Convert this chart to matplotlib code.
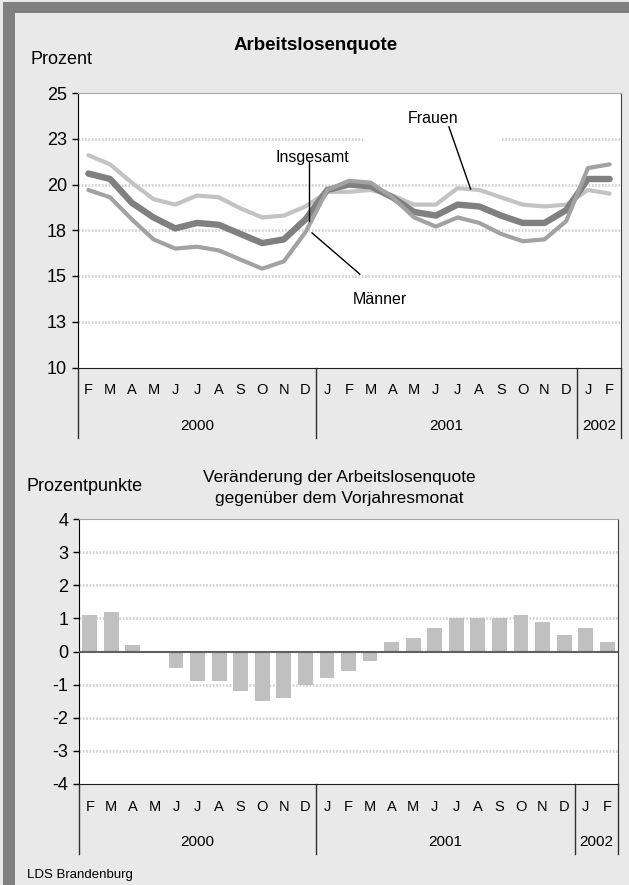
import numpy as np
import matplotlib
matplotlib.use("Agg")
import matplotlib.pyplot as plt
from matplotlib.patches import Rectangle

# Daten
monate = ["F", "M", "A", "M", "J", "J", "A", "S", "O", "N", "D",
          "J", "F", "M", "A", "M", "J", "J", "A", "S", "O", "N", "D",
          "J", "F"]
jahre = ["2000", "2001", "2002"]
jahr_len = [11, 12, 2]

frauen    = [21.6, 21.1, 20.1, 19.2, 18.9, 19.4, 19.3, 18.7, 18.2, 18.3, 18.8,
             19.6, 19.6, 19.7, 19.4, 18.9, 18.9, 19.8, 19.7, 19.3, 18.9, 18.8, 18.9,
             19.7, 19.5]
insgesamt = [20.6, 20.3, 19.0, 18.2, 17.6, 17.9, 17.8, 17.3, 16.8, 17.0, 18.1,
             19.7, 20.0, 19.9, 19.3, 18.5, 18.3, 18.9, 18.8, 18.3, 17.9, 17.9, 18.6,
             20.3, 20.3]
maenner   = [19.7, 19.3, 18.1, 17.0, 16.5, 16.6, 16.4, 15.9, 15.4, 15.8, 17.4,
             19.7, 20.2, 20.1, 19.3, 18.2, 17.7, 18.2, 17.9, 17.3, 16.9, 17.0, 18.0,
             20.9, 21.1]
veraenderung = [1.1, 1.2, 0.2, 0.0, -0.5, -0.9, -0.9, -1.2, -1.5, -1.4, -1.0,
                -0.8, -0.6, -0.3, 0.3, 0.4, 0.7, 1.0, 1.0, 1.0, 1.1, 0.9, 0.5,
                0.7, 0.3]

oben_ticks = [10, 12.5, 15, 17.5, 20, 22.5, 25]
oben_labels = ["10", "13", "15", "18", "20", "23", "25"]
unten_ticks = [-4, -3, -2, -1, 0, 1, 2, 3, 4]
unten_labels = ["-4", "-3", "-2", "-1", "0", "1", "2", "3", "4"]

plt.rcParams["font.family"] = ["Liberation Sans", "DejaVu Sans"]

W, H = 629, 885
fig = plt.figure(figsize=(W / 100, H / 100), dpi=100, facecolor="#e9e9e9")

# Rahmen (dunkler Streifen oben und links)
fig.add_artist(Rectangle((3 / W, 1 - 13 / H), 1, 11.5 / H, transform=fig.transFigure,
                         color="#808080", lw=0))
fig.add_artist(Rectangle((3 / W, 0), 12 / W, 1 - 1.5 / H, transform=fig.transFigure,
                         color="#808080", lw=0))

x = np.arange(len(monate))
grid_kw = dict(color="#d2d2d2", linestyle=(0, (0.6, 0.6)), linewidth=2)


def zeitachse(ax, hoehe_px):
    tr = ax.get_xaxis_transform()
    for i, m in enumerate(monate):
        ax.text(i, -23 / hoehe_px, m, transform=tr, ha="center", va="center", fontsize=10.5)
    start = -0.5
    grenzen = [start]
    for jahr, n in zip(jahre, jahr_len):
        ax.text(start + n / 2, -58 / hoehe_px, jahr, transform=tr, ha="center",
                va="center", fontsize=11)
        start += n
        grenzen.append(start)
    for g in grenzen:
        ax.plot([g, g], [0, -70 / hoehe_px], transform=tr, clip_on=False,
                color="#303030", lw=1)


def rahmen(ax):
    ax.set_facecolor("white")
    ax.spines["left"].set_color("black")
    ax.spines["bottom"].set_color("#202020")
    ax.spines["right"].set_color("#404040")
    ax.spines["top"].set_color("#a8a8a8")
    ax.spines["top"].set_linestyle((0, (1, 1)))
    ax.tick_params(axis="x", bottom=False, labelbottom=False)
    ax.tick_params(axis="y", length=4.5, width=1, labelsize=13, pad=3)
    ax.set_xlim(-0.5, len(monate) - 0.5)


# --- oben: Arbeitslosenquote ---
h1 = 274.5
ax1 = fig.add_axes([77.5 / W, 1 - 367.5 / H, 543 / W, h1 / H])
rahmen(ax1)
ax1.set_ylim(10, 25)
ax1.set_yticks(oben_ticks, oben_labels)
for t in oben_ticks[1:-1]:
    ax1.axhline(t, zorder=0.5, **grid_kw)
ax1.add_patch(Rectangle((12.64, 22.2), 6.4, 0.6, color="white", lw=0, zorder=0.8))

ax1.plot(x, frauen, color="#c3c3c3", lw=3.0, solid_capstyle="round", zorder=2)
ax1.plot(x, insgesamt, color="#808080", lw=4.6, solid_capstyle="round", zorder=2.2)
ax1.plot(x, maenner, color="#a2a2a2", lw=3.0, solid_capstyle="round", zorder=2.4)

ax1.text(10.3, 21.5, "Insgesamt", ha="center", va="center", fontsize=11.5, zorder=5)
ax1.plot([10.15, 10.15], [21.3, 18.0], color="black", lw=1, zorder=5)
ax1.text(13.4, 13.7, "Männer", ha="center", va="center", fontsize=11.5, zorder=5)
ax1.plot([10.3, 12.5], [17.35, 15.1], color="black", lw=1, zorder=5)
ax1.text(15.85, 23.6, "Frauen", ha="center", va="center", fontsize=11.5, zorder=5)
ax1.plot([16.6, 17.6], [23.15, 19.75], color="black", lw=1, zorder=5)
zeitachse(ax1, h1)

# --- unten: Veränderung gegenüber Vorjahresmonat ---
h2 = 265
ax2 = fig.add_axes([79 / W, 1 - 784 / H, 539 / W, h2 / H])
rahmen(ax2)
ax2.set_ylim(-4, 4)
ax2.set_yticks(unten_ticks, unten_labels)
for t in unten_ticks[1:-1]:
    if t != 0:
        ax2.axhline(t, zorder=0.5, **grid_kw)
ax2.bar(x, veraenderung, width=0.69, color="#c0c0c0", zorder=2)
ax2.axhline(0, color="#606060", lw=1.5, zorder=3)
zeitachse(ax2, h2)

# Texte
fig.text(316 / W, 1 - 45 / H, "Arbeitslosenquote", ha="center", va="center",
         fontsize=13.5, fontweight="bold")
fig.text(30 / W, 1 - 60 / H, "Prozent", ha="left", va="center", fontsize=13)
fig.text(27 / W, 1 - 487 / H, "Prozentpunkte", ha="left", va="center", fontsize=13)
fig.text(339 / W, 1 - 477 / H, "Veränderung der Arbeitslosenquote", ha="center",
         va="center", fontsize=12.5)
fig.text(339 / W, 1 - 498 / H, "gegenüber dem Vorjahresmonat", ha="center",
         va="center", fontsize=12.5)
fig.text(27 / W, 1 - 875 / H, "LDS Brandenburg", ha="left", va="center", fontsize=9.5)

fig.savefig("out.png", dpi=100, facecolor=fig.get_facecolor())
